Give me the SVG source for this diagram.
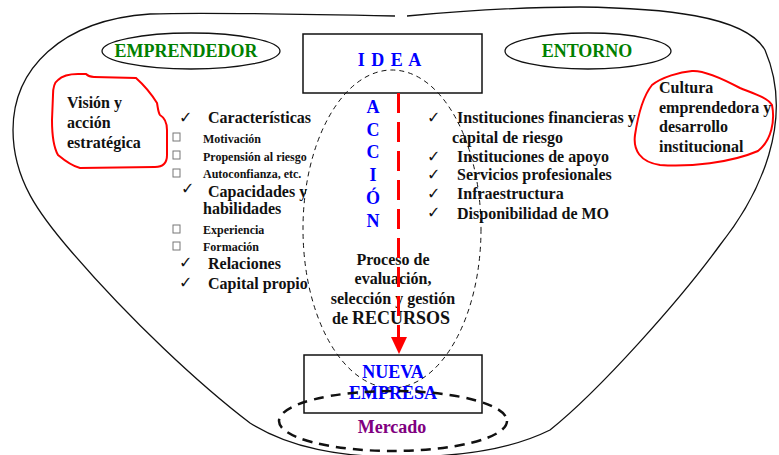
<svg xmlns="http://www.w3.org/2000/svg" width="779" height="455" viewBox="0 0 779 455">
<style>
text{font-family:"Liberation Serif","Times New Roman",serif;font-weight:bold;fill:#111}
.t16{font-size:16px}
.t12{font-size:12px}
.blue{fill:#0000ff;font-size:18px}
.green{fill:#008000;font-size:18px}
.chk{font-family:"DejaVu Sans",sans-serif;font-weight:normal;font-size:16px;fill:#111}
.box{fill:none;stroke:#777;stroke-width:1}
.line{fill:none;stroke:#111;stroke-width:1.3}
.blob{fill:none;stroke:#ff0000;stroke-width:2}
</style>
<defs>
<rect id="cb" width="7" height="8" class="box"/>
</defs>
<g id="outer">
<path class="line" d="M395,16 C300,14 200,12 150,14 C60,20 13,70 13,130 C13,180 40,215 70,250 C130,320 200,385 250,423 C290,448 340,457 400,457 C460,457 510,450 550,430 C600,390 680,300 720,245 C760,195 795,120 765,50 C745,15 660,8 580,7 C520,7 450,12 407,16"/>
</g>
<g id="emprendedor">
<ellipse cx="191" cy="51" rx="89" ry="18" class="line"/>
<text x="186" y="57" class="green" text-anchor="middle">EMPRENDEDOR</text>
</g>
<g id="entorno">
<ellipse cx="588" cy="51" rx="83" ry="18" class="line"/>
<text x="587" y="57" class="green" text-anchor="middle">ENTORNO</text>
</g>
<g id="idea">
<rect x="303" y="34" width="179" height="59" fill="none" stroke="#111" stroke-width="1.5"/>
<text x="390" y="66" class="blue" text-anchor="middle" letter-spacing="1">I D E A</text>
</g>
<g id="vision">
<path class="blob" d="M58,80 C62,76 68,74 78,74 L86,74 C88,76 90,77 94,77 L136,78 C145,86 152,95 157,103 C158,108 158,112 160,115 C165,118 167,122 167,130 L167,155 C167,163 163,167 155,167 L80,168 C72,166 64,160 58,155 C54,148 52,135 52,120 L53,95 C53,86 55,82 58,80 Z"/>
<text class="t16" x="67" y="108">Visión y</text>
<text class="t16" x="67" y="128">acción</text>
<text class="t16" x="67" y="148">estratégica</text>
</g>
<g id="cultura">
<path class="blob" d="M692,71 C680,72 662,77 652,85 C644,95 638,115 635,135 C633,150 640,162 660,165 C690,167 730,163 758,151 C772,140 775,120 772,105 C768,98 755,94 740,88 C725,80 705,70 692,71 Z"/>
<text class="t16" x="659" y="93">Cultura</text>
<text class="t16" x="659" y="113">emprendedora y</text>
<text class="t16" x="659" y="132">desarrollo</text>
<text class="t16" x="659" y="152">institucional</text>
</g>
<g id="emprendedor-list">
<text class="chk" x="179" y="123">✓</text>
<text class="t16" x="208" y="123">Características</text>
<use href="#cb" x="173" y="133"/>
<text class="t12" x="203" y="143">Motivación</text>
<use href="#cb" x="173" y="151"/>
<text class="t12" x="203" y="161">Propensión al riesgo</text>
<use href="#cb" x="173" y="169"/>
<text class="t12" x="203" y="178">Autoconfianza, etc.</text>
<text class="chk" x="181" y="194">✓</text>
<text class="t16" x="208" y="197">Capacidades y</text>
<text class="t16" x="203" y="214">habilidades</text>
<use href="#cb" x="173" y="225"/>
<text class="t12" x="203" y="234">Experiencia</text>
<use href="#cb" x="173" y="242"/>
<text class="t12" x="203" y="251">Formación</text>
<text class="chk" x="179" y="268">✓</text>
<text class="t16" x="208" y="269">Relaciones</text>
<text class="chk" x="179" y="288">✓</text>
<text class="t16" x="208" y="289">Capital propio</text>
</g>
<g id="entorno-list">
<text class="chk" x="427" y="123">✓</text>
<text class="t16" x="457" y="123">Instituciones financieras y</text>
<text class="t16" x="452" y="143">capital de riesgo</text>
<text class="chk" x="427" y="162">✓</text>
<text class="t16" x="457" y="162">Instituciones de apoyo</text>
<text class="chk" x="427" y="180">✓</text>
<text class="t16" x="457" y="180">Servicios profesionales</text>
<text class="chk" x="427" y="199">✓</text>
<text class="t16" x="457" y="199">Infraestructura</text>
<text class="chk" x="427" y="218">✓</text>
<text class="t16" x="457" y="219">Disponibilidad de MO</text>
</g>
<g id="accion">
<text class="blue" x="373" y="113" text-anchor="middle">A</text>
<text class="blue" x="373" y="136" text-anchor="middle">C</text>
<text class="blue" x="373" y="158" text-anchor="middle">C</text>
<text class="blue" x="373" y="181" text-anchor="middle">I</text>
<text class="blue" x="373" y="204" text-anchor="middle">Ó</text>
<text class="blue" x="373" y="227" text-anchor="middle">N</text>
</g>
<g id="proceso">
<ellipse cx="392" cy="229" rx="89" ry="159" fill="none" stroke="#111" stroke-width="1" stroke-dasharray="5,4"/>
<text class="t16" x="393" y="265" text-anchor="middle">Proceso de</text>
<text class="t16" x="393" y="284" text-anchor="middle">evaluación,</text>
<text class="t16" x="393" y="304" text-anchor="middle">selección y gestión</text>
<text x="391" y="324" text-anchor="middle"><tspan class="t16">de </tspan><tspan style="font-size:18px">RECURSOS</tspan></text>
</g>
<g id="connectors">
<line x1="398.5" y1="93" x2="398.5" y2="340" stroke="#ff0000" stroke-width="3" stroke-dasharray="20,9"/>
<polygon points="391,337 407,337 399,354" fill="#ff0000"/>
</g>
<g id="nueva-empresa">
<rect x="304" y="355" width="178" height="58" fill="none" stroke="#111" stroke-width="1.5"/>
<text class="blue" x="393" y="378" text-anchor="middle">NUEVA</text>
<text class="blue" x="393" y="399" text-anchor="middle">EMPRESA</text>
</g>
<g id="mercado">
<ellipse cx="393" cy="421" rx="114" ry="30" fill="none" stroke="#111" stroke-width="2.5" stroke-dasharray="10,7"/>
<text x="392" y="433" text-anchor="middle" style="font-size:18px;fill:#800080">Mercado</text>
</g>
</svg>
